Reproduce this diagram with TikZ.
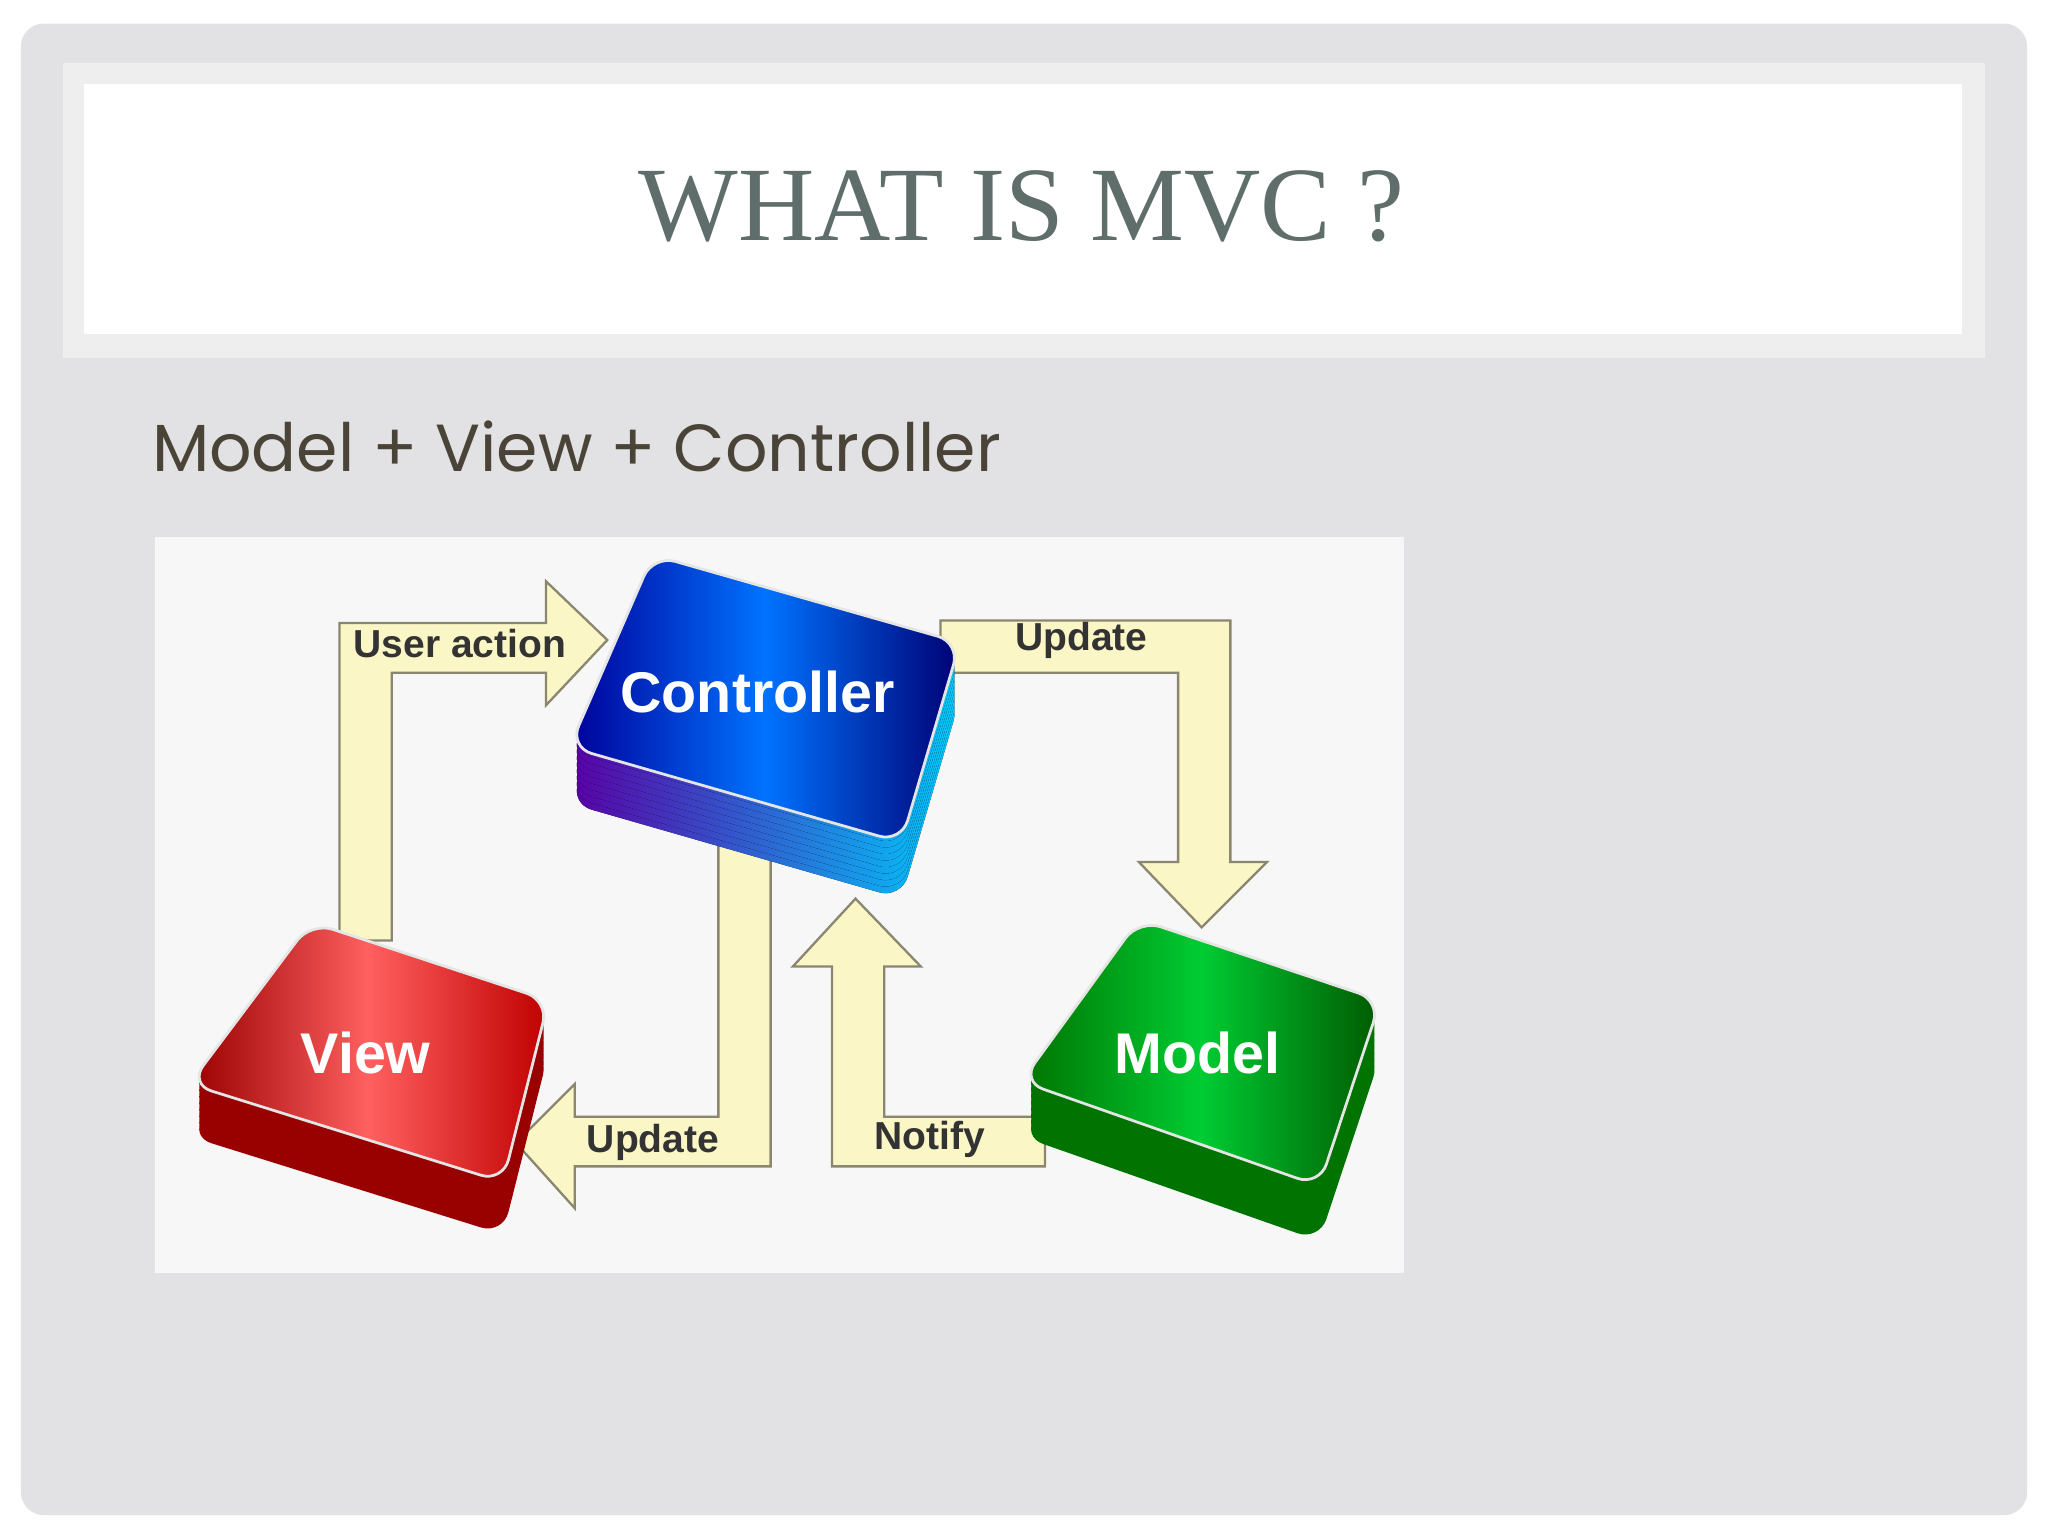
\documentclass[tikz,border=0pt]{standalone}
\usepackage{fontspec}
\setmainfont{Liberation Serif}
\newfontfamily\subfont{Poppins}
\newfontfamily\labfont{Liberation Sans}
\definecolor{slidegray}{HTML}{E2E1E3}
\definecolor{bandgray}{HTML}{EEEEEE}
\definecolor{titlecol}{HTML}{5F6E6A}
\definecolor{subcol}{HTML}{4A4438}
\definecolor{cream}{HTML}{FBF6C6}
\definecolor{arrline}{HTML}{8A8670}
\tikzset{
  flow/.style={fill=cream,draw=arrline,line width=0.5pt,line join=miter},
  flowlab/.style={font=\labfont\bfseries\fontsize{8.5}{10}\selectfont,text=black!80},
  boxlab/.style={font=\labfont\bfseries\fontsize{12.5}{14}\selectfont,text=white},
  face/.style={rounded corners=5pt,draw=white!80!gray,line width=0.6pt}
}
\begin{document}
\begin{tikzpicture}[x=0.1mm,y=-0.1mm]
\useasboundingbox (0,0) rectangle (1568,1176);
\fill[white] (0,0) rectangle (1568,1176);
\fill[slidegray,rounded corners=5pt] (16,18) rectangle (1552,1160);
\fill[bandgray] (48,48) rectangle (1520,274);
\fill[white] (64,64) rectangle (1502,256);
\node[text=titlecol,font=\fontsize{23}{26}\selectfont] (title) at (782,158) {WHAT IS MVC ?};
\node[anchor=west,text=subcol,font=\subfont\fontsize{14.5}{17}\selectfont] (sub) at (104,342) {Model + View + Controller};
\fill[black!3] (119,411) rectangle (1075,975);
% arrows
\draw[flow] (260,720) -- (260,477) -- (418,477) -- (418,445) -- (465,490) -- (418,540) -- (418,515) -- (300,515) -- (300,720) -- cycle;
\draw[flow] (720,475) -- (942,475) -- (942,660) -- (970,660) -- (920,710) -- (872,660) -- (902,660) -- (902,515) -- (720,515) -- cycle;
\draw[flow] (800,893) -- (637,893) -- (637,740) -- (607,740) -- (655,688) -- (705,740) -- (677,740) -- (677,855) -- (800,855) -- cycle;
\draw[flow] (550,640) -- (550,855) -- (440,855) -- (440,830) -- (395,875) -- (440,925) -- (440,893) -- (590,893) -- (590,640) -- cycle;
\node[flowlab] (lua) at (352,493) {User action};
\node[flowlab] (luc) at (828,490) {Update};
\node[flowlab] (lno) at (712,872) {Notify};
\node[flowlab] (luv) at (500,875) {Update};
% controller
\foreach \d in {43,38,...,0}
  \fill[rounded corners=5pt,left color=violet!70!blue,right color=cyan!80!blue] (436,572+\d) -- (500,425+\d) -- (735,492+\d) -- (690,645+\d) -- cycle;
\fill[face,left color=blue!60!black,right color=blue!45!black,middle color=blue!55!cyan] (436,572) -- (500,425) -- (735,492) -- (690,645) -- cycle;
\node[boxlab] (ctrl) at (580,530) {Controller};
% view
\foreach \d in {40,35,...,0}
  \fill[rounded corners=5pt,red!60!black] (145,830+\d) -- (238,706+\d) -- (420,766+\d) -- (385,905+\d) -- cycle;
\fill[face,left color=red!60!black,right color=red!75!black,middle color=red!50!pink] (145,830) -- (238,706) -- (420,766) -- (385,905) -- cycle;
\node[boxlab] (view) at (280,806) {View};
% model
\foreach \d in {42,37,...,0}
  \fill[rounded corners=5pt,green!45!black] (782,828+\d) -- (872,704+\d) -- (1057,766+\d) -- (1010,908+\d) -- cycle;
\fill[face,left color=green!45!black,right color=green!35!black,middle color=green!60!teal] (782,828) -- (872,704) -- (1057,766) -- (1010,908) -- cycle;
\node[boxlab] (model) at (917,806) {Model};
\end{tikzpicture}
\end{document}
